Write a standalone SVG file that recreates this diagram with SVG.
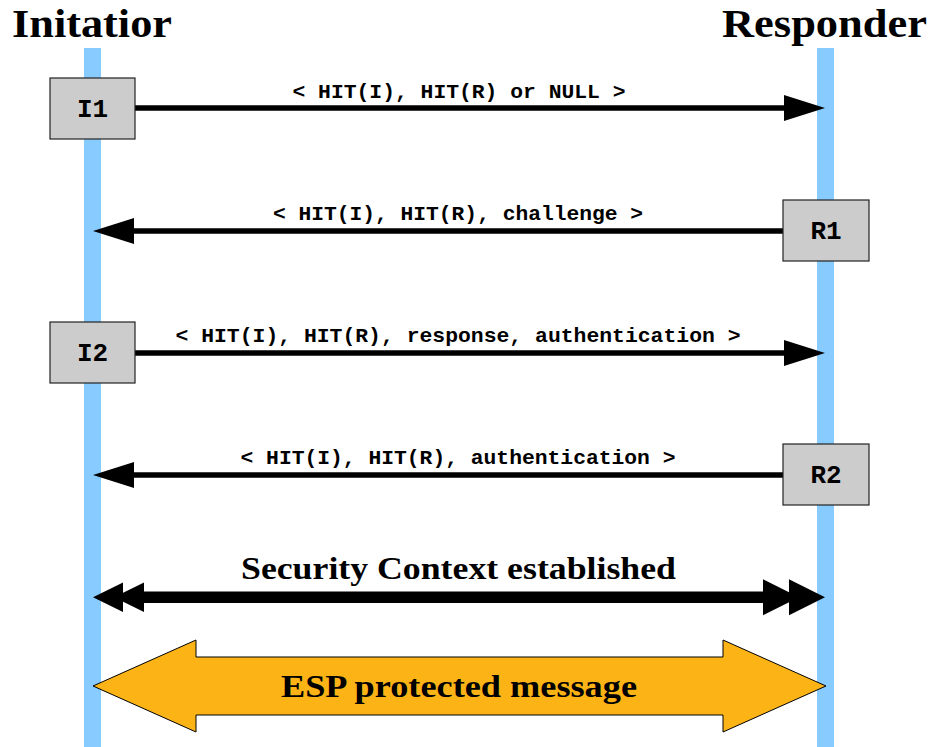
<svg xmlns="http://www.w3.org/2000/svg" width="933" height="747" viewBox="0 0 933 747">
<style>
.title{font-family:"Liberation Serif","DejaVu Serif",serif;font-weight:bold;font-size:39px;fill:#000}
.big{font-family:"Liberation Serif","DejaVu Serif",serif;font-weight:bold;font-size:31px;fill:#000;text-anchor:middle}
.lbl{font-family:"Liberation Mono","DejaVu Sans Mono",monospace;font-weight:bold;font-size:21px;fill:#000;text-anchor:middle}
.nl{font-family:"Liberation Mono","DejaVu Sans Mono",monospace;font-weight:bold;font-size:26px;fill:#000;text-anchor:middle}
.box{fill:#cccccc;stroke:#222;stroke-width:1.2}
.life{fill:#88ccff}
.ln{stroke:#000;stroke-width:5.5;fill:none}
</style>
<rect width="933" height="747" fill="#fff"/>
<g id="lifelines">
<rect class="life" x="84" y="48" width="17" height="699"/>
<rect class="life" x="817" y="48" width="17" height="699"/>
</g>
<g id="titles">
<text class="title" x="12" y="37" textLength="160" lengthAdjust="spacingAndGlyphs">Initatior</text>
<text class="title" x="722" y="37" textLength="205" lengthAdjust="spacingAndGlyphs">Responder</text>
</g>
<g id="connectors">
<line class="ln" x1="135" y1="108" x2="786" y2="108"/>
<polygon points="784,95 825,108 784,121"/>
<text class="lbl" x="459" y="98" textLength="333" lengthAdjust="spacingAndGlyphs">&lt; HIT(I), HIT(R) or NULL &gt;</text>
<line class="ln" x1="783" y1="231" x2="132" y2="231"/>
<polygon points="134,218 93,231 134,244"/>
<text class="lbl" x="458" y="220" textLength="370" lengthAdjust="spacingAndGlyphs">&lt; HIT(I), HIT(R), challenge &gt;</text>
<line class="ln" x1="135" y1="353" x2="786" y2="353"/>
<polygon points="784,340 825,353 784,366"/>
<text class="lbl" x="458" y="342" textLength="565" lengthAdjust="spacingAndGlyphs">&lt; HIT(I), HIT(R), response, authentication &gt;</text>
<line class="ln" x1="783" y1="475" x2="132" y2="475"/>
<polygon points="134,462 93,475 134,488"/>
<text class="lbl" x="458" y="464" textLength="435" lengthAdjust="spacingAndGlyphs">&lt; HIT(I), HIT(R), authentication &gt;</text>
</g>
<g id="security">
<rect x="140" y="591.5" width="626" height="11.5" fill="#000"/>
<polygon points="144,582.5 114,597.3 144,612"/>
<polygon points="123,582.5 93,597.3 123,612"/>
<polygon points="763,579.3 799,597.3 763,615.3"/>
<polygon points="789,579.3 825,597.3 789,615.3"/>
<text class="big" x="458.5" y="579" textLength="435" lengthAdjust="spacingAndGlyphs">Security Context established</text>
</g>
<g id="esp">
<polygon points="93,686 196,640 196,657 723,657 723,640 826,686 723,732 723,715 196,715 196,732" fill="#fbb316" stroke="#000" stroke-width="1"/>
<text class="big" x="459" y="697" textLength="356" lengthAdjust="spacingAndGlyphs">ESP protected message</text>
</g>
<g id="I1"><rect class="box" x="50" y="78" width="85" height="61"/><text class="nl" x="92.5" y="117">I1</text></g>
<g id="R1"><rect class="box" x="783" y="200" width="86" height="61"/><text class="nl" x="826" y="239">R1</text></g>
<g id="I2"><rect class="box" x="50" y="322" width="85" height="61"/><text class="nl" x="92.5" y="361">I2</text></g>
<g id="R2"><rect class="box" x="783" y="444" width="86" height="61"/><text class="nl" x="826" y="483">R2</text></g>
</svg>
